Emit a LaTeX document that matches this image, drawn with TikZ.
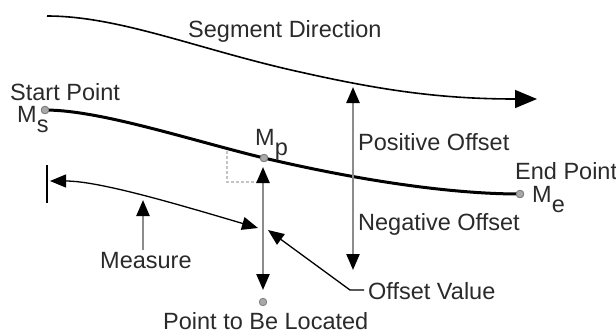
\documentclass[tikz,border=0pt]{standalone}
\usepackage{fontspec}
\setmainfont{Liberation Sans}
\usetikzlibrary{arrows.meta}
\definecolor{txt}{HTML}{2A2A2A}
\definecolor{lgray}{HTML}{8C8C8C}
\definecolor{dgray}{HTML}{C4C4C4}
\definecolor{dotfill}{HTML}{A8A8A8}
\definecolor{dotline}{HTML}{808080}
\tikzset{
  myhead/.tip={Triangle[length=16pt,width=13pt,color=black]},
  bighead/.tip={Triangle[length=22pt,width=18pt,color=black]},
}
\begin{document}
\begin{tikzpicture}[x=1pt,y=-1pt,
  lbl/.style={anchor=base west,inner sep=0pt,text=txt,font=\fontsize{23.5}{28}\selectfont},
  dot/.style={circle,fill=dotfill,draw=dotline,line width=0.8pt,inner sep=0pt,minimum size=7.5pt},
  grayarrow/.style={draw=lgray,line width=2.4pt},
  thinblack/.style={draw=black,line width=1.3pt},
  mainline/.style={draw=black,line width=3pt},
  dirline/.style={draw=black,line width=1.6pt},
  rightangle/.style={draw=dgray,line width=1.6pt,dash pattern=on 3pt off 2pt}]
\useasboundingbox (0,0) rectangle (616,333);

% coordinates
\coordinate (dirstart) at (47,16);
\coordinate (dirmid) at (300,72);
\coordinate (dirend) at (537,99);
\coordinate (postip) at (353,87);
\coordinate (negtip) at (353,270);
\coordinate (offtop) at (263,167);
\coordinate (offbot) at (263,290);
\coordinate (ratop) at (227,151);
\coordinate (racorner) at (227,182);
\coordinate (raend) at (258,182);
\coordinate (bartop) at (47,165);
\coordinate (barbot) at (47,203);
\coordinate (measL) at (50,181);
\coordinate (measR) at (258,228);
\coordinate (measfoot) at (143,250);
\coordinate (meastip) at (143,200);
\coordinate (ovfoot) at (364,290);
\coordinate (ovbend) at (350,290);
\coordinate (ovtip) at (268,230);

% dots
\node[dot] (ms) at (45,110) {};
\node[dot] (mp) at (264,158) {};
\node[dot] (me) at (520,194) {};
\node[dot] (pt) at (263,302) {};

% segment direction curve
\draw[dirline,-{bighead}] (dirstart) .. controls (120,16) and (200,50) .. (dirmid)
   .. controls (380,90) and (440,99) .. (dirend);

% right angle mark
\draw[rightangle] (ratop) -- (racorner) -- (raend);

% main line
\draw[mainline] (ms.center) .. controls (100,110) and (190,140) .. (mp.center)
   .. controls (340,176) and (440,194) .. (me.center);
\node[dot] at (ms) {};
\node[dot] at (mp) {};
\node[dot] at (me) {};

% offset arrows
\draw[grayarrow,{myhead}-{myhead}] (postip) -- (negtip);
\draw[grayarrow,{myhead}-{myhead}] (offtop) -- (offbot);

% measure
\draw[thinblack,line width=1.6pt] (bartop) -- (barbot);
\draw[thinblack,{myhead}-{myhead}] (measL) .. controls (100,181) and (180,205) .. (measR);
\draw[grayarrow,-{myhead}] (measfoot) -- (meastip);

% offset value leader
\draw[thinblack,-{myhead}] (ovfoot) -- (ovbend) -- (ovtip);

% labels
\node[lbl] (lsd) at (188,37) {Segment Direction};
\node[lbl] (lsp) at (10,100) {Start Point};
\node[lbl] (lms) at (17,122) {M\raisebox{-10pt}{s}};
\node[lbl] (lmp) at (255,145) {M\raisebox{-10pt}{p}};
\node[lbl] (lpo) at (358,150) {Positive Offset};
\node[lbl] (lep) at (515,179) {End Point};
\node[lbl] (lme) at (532,202) {M\raisebox{-10pt}{e}};
\node[lbl] (lno) at (358,230) {Negative Offset};
\node[lbl] (lmeas) at (100,268) {Measure};
\node[lbl] (lov) at (368,299) {Offset Value};
\node[lbl] (lptl) at (163,329) {Point to Be Located};
\end{tikzpicture}
\end{document}
